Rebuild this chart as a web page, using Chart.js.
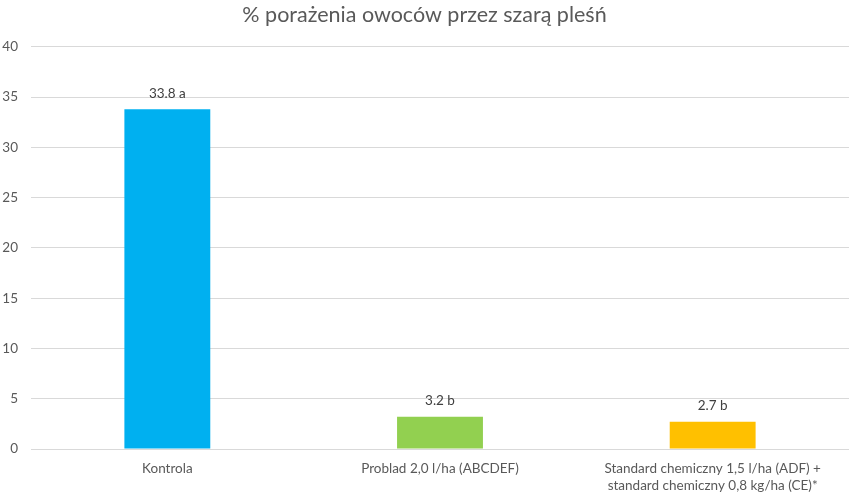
<!DOCTYPE html>
<html><head><meta charset="utf-8">
<script src="https://cdn.jsdelivr.net/npm/chart.js@4"></script>
<style>html,body{margin:0;padding:0;background:#fff}#wrap{width:854px;height:499px}</style>
</head><body><div id="wrap"><canvas id="c"></canvas></div>
<script>
const categories = ["Kontrola", "Problad 2,0 l/ha (ABCDEF)", ["Standard chemiczny 1,5 l/ha (ADF) +", "standard chemiczny 0,8 kg/ha (CE)*"]];
const values = [33.8, 3.2, 2.7];
const letters = ["a", "b", "b"];
const colors = ["#00B0F0", "#92D050", "#FFC000"];
const yTicks = [0, 5, 10, 15, 20, 25, 30, 35, 40];

const FONT = "Lato, 'Open Sans', sans-serif";
const labelPlugin = {
  id: 'vals',
  afterDatasetsDraw(chart) {
    const ctx = chart.ctx;
    const meta = chart.getDatasetMeta(0);
    ctx.save();
    ctx.font = "13.5px " + FONT;
    ctx.fillStyle = "#404040";
    ctx.textAlign = "center";
    ctx.textBaseline = "middle";
    meta.data.forEach((bar, i) => {
      ctx.fillText(values[i].toFixed(1) + " " + letters[i], bar.x, bar.y - 16);
    });
    ctx.restore();
  }
};

new Chart(document.getElementById('c'), {
  type: 'bar',
  data: { labels: categories, datasets: [{ data: values, backgroundColor: colors, barPercentage: 1, categoryPercentage: 0.315 }] },
  options: {
    responsive: true, maintainAspectRatio: false, animation: false,
    layout: { padding: { left: 0, right: 5, top: 2, bottom: 0 } },
    plugins: {
      legend: { display: false }, tooltip: { enabled: false },
      title: { display: true, text: "% porażenia owoców przez szarą pleśń", color: "#595959", font: { family: FONT, size: 21.5, weight: 'normal' }, padding: { top: 0, bottom: 19 } }
    },
    scales: {
      x: {
        afterFit(axis) { axis.height = 50; },
        grid: { display: false, drawTicks: false }, border: { display: false },
        ticks: { color: "#595959", font: { family: FONT, size: 13.5, lineHeight: 1.25 }, padding: 11, maxRotation: 0, autoSkip: false }
      },
      y: {
        min: 0, max: 40,
        afterBuildTicks(axis) { axis.ticks = yTicks.map(v => ({ value: v })); },
        afterFit(axis) { axis.width = 31; },
        grid: { color: "#D9D9D9", drawTicks: false }, border: { display: false },
        ticks: { color: "#595959", font: { family: FONT, size: 13.5 }, padding: 13 }
      }
    }
  },
  plugins: [labelPlugin]
});
</script></body></html>
